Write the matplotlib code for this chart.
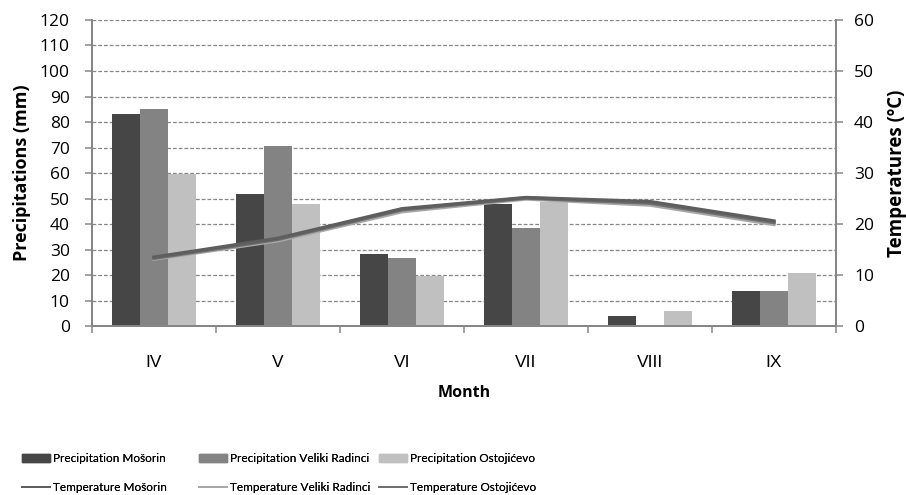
import matplotlib.pyplot as plt
import numpy as np
from matplotlib.lines import Line2D

plt.rcParams['font.family'] = ['Open Sans', 'DejaVu Sans']

# monthly data, April - September
months = ["IV", "V", "VI", "VII", "VIII", "IX"]

prec_mosorin = [83.1, 51.8, 28.2, 47.8, 3.9, 13.7]
prec_veliki = [85.1, 70.6, 26.7, 38.4, 0.0, 13.7]
prec_ostojicevo = [59.6, 47.8, 19.6, 48.7, 5.9, 20.8]

temp_mosorin = [13.5, 17.2, 23.0, 25.2, 24.4, 20.6]
temp_veliki = [13.1, 16.7, 22.4, 24.9, 23.7, 19.9]
temp_ostojicevo = [13.3, 17.0, 22.8, 25.1, 24.1, 20.3]

grey = "#868686"
c_mos, c_vel, c_ost = "#464646", "#838383", "#c0c0c0"
t_mos, t_vel, t_ost = "#5e5e5e", "#a8a8a8", "#6e6e6e"

fig = plt.figure(figsize=(9.06, 4.95), dpi=100)
ax = fig.add_axes([0.1015, 0.3414, 0.8212, 0.6182])
ax2 = ax.twinx()

x = np.arange(len(months))
w = 0.226
ax.bar(x - w, prec_mosorin, w, color=c_mos)
ax.bar(x, prec_veliki, w, color=c_vel)
ax.bar(x + w, prec_ostojicevo, w, color=c_ost)

ax2.plot(x, temp_veliki, color=t_vel, lw=2.4)
ax2.plot(x, temp_ostojicevo, color=t_ost, lw=2.6)
ax2.plot(x, temp_mosorin, color=t_mos, lw=2.4)

ax.set_xlim(-0.5, 5.5)
ax.set_ylim(0, 120)
ax2.set_ylim(0, 60)
ax.set_yticks(range(0, 121, 10))
ax2.set_yticks(range(0, 61, 10))

ax.set_axisbelow(True)
ax.yaxis.grid(True, color=grey, lw=0.9, linestyle=(0, (3, 1.6)))

ax.set_xticks(x)
ax.set_xticklabels(months, fontfamily="Liberation Sans")
ax.set_xticks(np.arange(-0.5, 6, 1), minor=True)
ax.tick_params(axis="x", which="major", length=0, pad=21, labelsize=12.5)
ax.tick_params(axis="x", which="minor", length=5, color=grey, width=1.1)
ax.tick_params(axis="y", length=5, color=grey, width=1.1, labelsize=12.5, pad=11)
ax2.tick_params(axis="y", length=5, color=grey, width=1.1, labelsize=12.5, pad=8)

for a in (ax, ax2):
    a.spines["top"].set_visible(False)
    for s in ("left", "right", "bottom"):
        a.spines[s].set_color(grey)
        a.spines[s].set_linewidth(1.4)

ax.set_xlabel("Month", fontsize=11.5, fontweight="bold", labelpad=11)
ax.set_ylabel("Precipitations (mm)", fontsize=13, fontweight="bold", labelpad=6)
ax2.set_ylabel("Temperatures (ºC)", fontsize=13.5, fontweight="bold", labelpad=9)

# legend: one small legend per station column
entries = [
    (c_mos, t_mos, "Mošorin", 20),
    (c_vel, t_vel, "Veliki Radinci", 197),
    (c_ost, t_ost, "Ostojićevo", 377),
]
W, H = fig.get_size_inches() * fig.dpi
for bar_c, line_c, name, px in entries:
    hs = [plt.Rectangle((0, 0), 1, 1, color=bar_c), Line2D([], [], color=line_c, lw=1.3)]
    leg = fig.legend(hs, ["Precipitation " + name, "Temperature " + name],
                     loc="upper left", bbox_to_anchor=(px / W - 0.006, 1 - 446 / H),
                     frameon=False, prop={"family": ["Lato", "DejaVu Sans"], "size": 8.5},
                     handlelength=2.4, handleheight=0.75, handletextpad=0.25,
                     labelspacing=1.5, borderpad=0.1)
    fig.add_artist(leg)

fig.savefig("out.png", dpi=100)
